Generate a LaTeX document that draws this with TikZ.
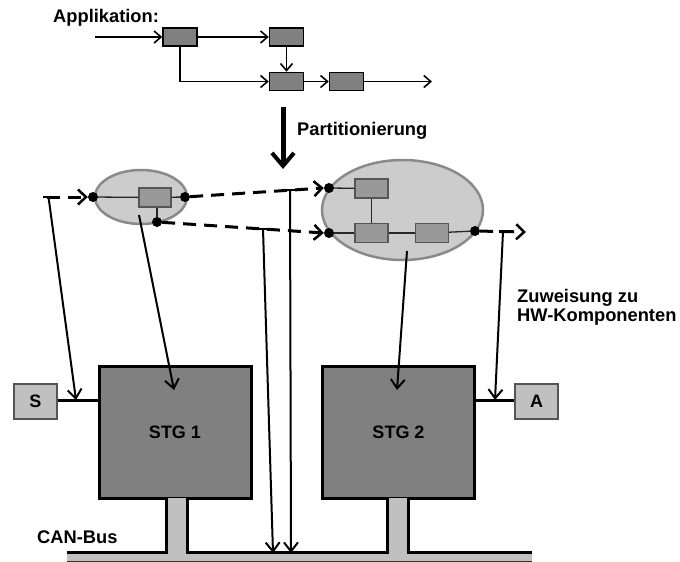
\documentclass[tikz,border=0pt]{standalone}
\usepackage{fontspec}
\setmainfont{Liberation Sans}
\usetikzlibrary{arrows.meta,shapes.geometric,calc}
\definecolor{ellfill}{HTML}{CCCCCC}
\definecolor{elldraw}{HTML}{8A8A8A}
\definecolor{inbox}{HTML}{999999}
\definecolor{inboxdraw}{HTML}{555555}
\definecolor{stgfill}{HTML}{808080}
\definecolor{sensfill}{HTML}{C0C0C0}
\tikzset{
  lbl/.style={font=\bfseries\fontsize{18.3}{21}\selectfont, inner sep=0pt},
  appbox/.style={draw=black, fill=stgfill, line width=1.5pt, minimum width=34pt, minimum height=18pt, inner sep=0pt},
  apparr/.style={line width=1.6pt, -{Straight Barb[length=7pt,width=12pt,line width=1.6pt]}},
  ellnode/.style={ellipse, draw=elldraw, fill=ellfill, line width=2.5pt, inner sep=0pt},
  ibox/.style={draw=inboxdraw, fill=inbox, line width=1.3pt, minimum width=33pt, minimum height=19pt, inner sep=0pt},
  dot/.style={circle, fill=black, minimum size=10pt, inner sep=0pt},
  thin/.style={draw=black!85, line width=1.3pt},
  dasharr/.style={line width=3pt, dash pattern=on 13pt off 8pt, -{Straight Barb[length=8pt,width=15pt,line width=2.5pt]}},
  longarr/.style={line width=2pt, -{Straight Barb[length=9pt,width=14pt,line width=2pt]}},
  tick/.style={line width=2.5pt},
  stg/.style={draw=black, fill=stgfill, line width=3pt, minimum width=152pt, minimum height=132pt, inner sep=0pt, font=\bfseries\fontsize{18}{21}\selectfont},
  sens/.style={draw=inboxdraw, fill=sensfill, line width=1.5pt, minimum width=43pt, minimum height=35pt, inner sep=0pt, font=\bfseries\fontsize{18}{21}\selectfont},
}
\begin{document}
\begin{tikzpicture}[x=1pt,y=-1pt]
\useasboundingbox (0,0) rectangle (680,562);
% ---------- Applikation ----------
\node[lbl, anchor=west] (applbl) at (53,18) {Applikation:};
\node[appbox] (a1) at (180,37) {};
\node[appbox] (a2) at (286.5,37) {};
\node[appbox] (a3) at (286.5,81.5) {};
\node[appbox] (a4) at (346.5,81.5) {};
\coordinate (ain) at (95,37);
\coordinate (aout) at (432,81.5);
\draw[apparr] (ain) -- (a1);
\draw[apparr] (a1) -- (a2);
\draw[apparr] (a2) -- (a3);
\draw[apparr] (a1.south) |- (a3.west);
\draw[apparr] (a3) -- (a4);
\draw[apparr] (a4) -- (aout);
% ---------- Partitionierung ----------
\coordinate (ptop) at (283,107);
\coordinate (pbot) at (283,169);
\draw[line width=5pt, -{Straight Barb[length=13pt,width=22pt,line width=4pt]}] (ptop) -- (pbot);
\node[lbl, anchor=west] (partlbl) at (297,131) {Partitionierung};
% ---------- left ellipse ----------
\node[ellnode, minimum width=92pt, minimum height=54pt] (e1) at (141,197) {};
\node[ibox, minimum width=32pt] (b1) at (155,197.5) {};
\node[dot] (d1in) at (93,197) {};
\node[dot] (d1out) at (185,197) {};
\node[dot] (d1bot) at (157,222) {};
\draw[thin] (d1in) -- (b1);
\draw[thin] (b1) -- (d1out);
\draw[thin] (b1.south -| d1bot) -- (d1bot);
% ---------- right ellipse ----------
\node[ellnode, minimum width=161pt, minimum height=100pt] (e2) at (402.5,210) {};
\node[ibox] (bA) at (371.5,188.5) {};
\node[ibox] (bB) at (371.5,233) {};
\node[ibox] (bC) at (432,233) {};
\node[dot] (d2a) at (329,188) {};
\node[dot] (d2b) at (329,233) {};
\node[dot] (d2out) at (475,231) {};
\draw[thin] (d2a) -- (bA);
\draw[thin] (bA) -- (bB);
\draw[thin] (d2b) -- (bB);
\draw[thin] (bB) -- (bC);
\draw[thin] (bC) -- (d2out);
% ---------- STG, sensor, actuator ----------
\node[stg] (stg1) at (175,432) {STG 1};
\node[stg] (stg2) at (398.5,432) {STG 2};
\node[sens] (S) at (35.5,401.5) {S};
\node[sens] (A) at (536.5,401.5) {A};
\draw[line width=3pt] (S.east |- 0,400) -- (stg1.west |- 0,400);
\draw[line width=3pt] (stg2.east |- 0,400) -- (A.west |- 0,400);
% ---------- CAN bus ----------
\fill[sensfill] (67,552) rectangle (532,561);
\fill[sensfill] (166,498) rectangle (187,553);
\fill[sensfill] (387,498) rectangle (408,553);
\draw[line width=3pt] (67,552) -- (166,552) -- (166,498);
\draw[line width=3pt] (187,498) -- (187,552) -- (387,552) -- (387,498);
\draw[line width=3pt] (408,498) -- (408,552) -- (532,552);
\draw[line width=1pt, black!80] (67,561.5) -- (532,561.5);
\node[lbl, anchor=west] (canlbl) at (37,537) {CAN-Bus};
\coordinate (busA) at (273,553);
\coordinate (busB) at (291,553);
% ---------- label ----------
\node[lbl, anchor=west, align=left] (zulbl) at (517,307) {Zuweisung zu\\[-2pt]HW-Komponenten};
% ---------- dashed signal lines ----------
\coordinate (t0) at (47,197);
\coordinate (t1) at (290,190.2);
\coordinate (t2) at (263,229);
\coordinate (t3) at (503,231.5);
\coordinate (oend) at (526,232);
\draw[dasharr] (t0) -- (d1in.west);
\draw[dasharr] (d1out) -- (d2a.west);
\draw[dasharr] (d1bot) -- (d2b.west);
\draw[dasharr] (d2out) -- (oend);
\foreach \t in {t0,t1,t2,t3} \draw[tick] ($(\t)+(-4.5,0)$) -- ($(\t)+(4.5,0)$);
% ---------- assignment arrows ----------
\coordinate (s1) at (139,215);
\coordinate (s2) at (407,251);
\coordinate (sT) at (76,400);
\coordinate (aT) at (495,400);
\coordinate (stg1T) at (174,390);
\coordinate (stg2T) at (397,390);
\draw[longarr] ($(t0)+(1.5,0)$) -- (sT);
\draw[longarr] (s1) -- (stg1T);
\draw[longarr] (t2) -- (busA);
\draw[longarr] (t1) -- (busB);
\draw[longarr] (s2) -- (stg2T);
\draw[longarr] (t3) -- (aT);
\end{tikzpicture}
\end{document}
